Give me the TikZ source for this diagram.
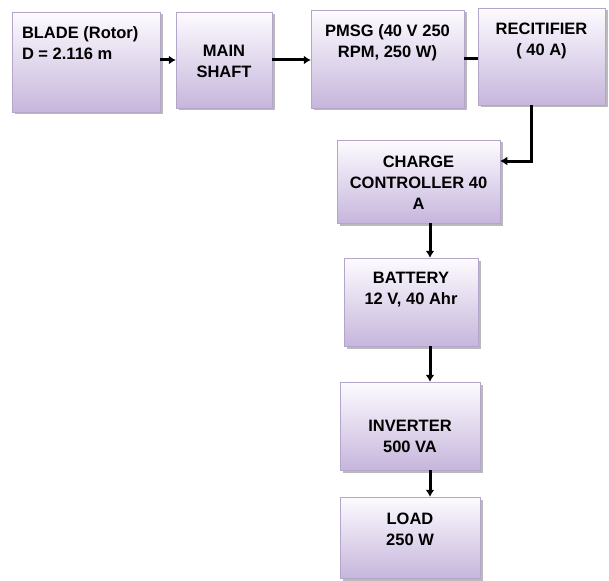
\documentclass[tikz,border=0pt]{standalone}
\usepackage{fontspec}
\setmainfont{Liberation Sans}
\usetikzlibrary{arrows.meta, shadows}
\definecolor{lavtop}{RGB}{253,251,255}
\definecolor{lavbot}{RGB}{198,182,220}
\definecolor{lavline}{RGB}{180,165,202}

\begin{document}
\begin{tikzpicture}[
		x=1pt, y=-1pt,
		font=\fontsize{16.5}{21}\selectfont\bfseries,
		block/.style={draw=lavline, line width=0.5pt, top color=lavtop, bottom color=lavbot,
			inner sep=0pt, drop shadow={shadow xshift=2.5pt, shadow yshift=-2.5pt, fill=black!45, opacity=0.6}},
		arrow/.style={-{Latex[length=7pt, width=9pt]}, line width=3pt, draw=black},
		link/.style={line width=3pt, draw=black}
	]
		\useasboundingbox (0,0) rectangle (609,580);

		\node[block] (blade) at (86,62) {\parbox[c][100pt][t]{148pt}{\vspace*{15pt}\raggedright\hspace*{10pt}BLADE (Rotor)\\\hspace*{10pt}D = 2.116 m}};
		\node[block] (shaft) at (224,60) {\parbox[c][96pt][t]{96pt}{\vspace*{33.5pt}\centering MAIN\\SHAFT}};
		\node[block] (pmsg) at (387.5,59) {\parbox[c][98pt][t]{153pt}{\vspace*{15pt}\centering PMSG (40 V 250\\RPM, 250 W)}};
		\node[block] (rect) at (541.5,56.5) {\parbox[c][97pt][t]{127pt}{\vspace*{15pt}\centering RECITIFIER\\( 40 A)}};
		\node[block] (ctrl) at (418.5,181.5) {\parbox[c][83pt][t]{163pt}{\vspace*{15.5pt}\centering CHARGE\\CONTROLLER 40\\A}};
		\node[block] (batt) at (411,302) {\parbox[c][88pt][t]{134pt}{\vspace*{14.5pt}\centering BATTERY\\12 V, 40 Ahr}};
		\node[block] (inv) at (410,426) {\parbox[c][88pt][t]{140pt}{\vspace*{38pt}\centering INVERTER\\500 VA}};
		\node[block] (load) at (410,537.5) {\parbox[c][81pt][t]{140pt}{\vspace*{16pt}\centering LOAD\\250 W}};

		\coordinate (col) at (430,0);

		\draw[arrow] (blade.east |- shaft.west) -- (shaft.west);
		\draw[arrow] (shaft.east) -- (shaft.east -| pmsg.west);
		\draw[link] (pmsg.east) -- (pmsg.east -| rect.west);
		\draw[arrow] ([xshift=-10.5pt]rect.south) |- ([yshift=20.5pt]ctrl.east);
		\draw[arrow] (ctrl.south -| col) -- (batt.north -| col);
		\draw[arrow] (batt.south -| col) -- (inv.north -| col);
		\draw[arrow] (inv.south -| col) -- (load.north -| col);
	\end{tikzpicture}
\end{document}
